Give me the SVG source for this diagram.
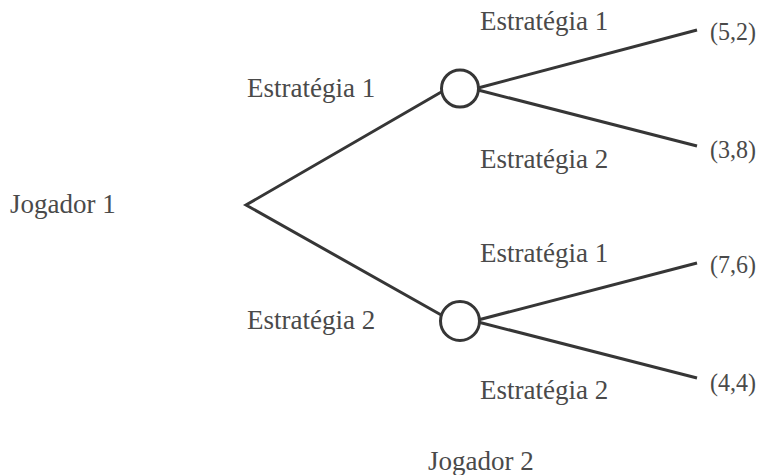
<svg xmlns="http://www.w3.org/2000/svg" width="760" height="475" viewBox="0 0 760 475">
  <style>
    .lbl { font-family: "Liberation Serif", "Times New Roman", serif; font-size: 27px; fill: #4a4a4a; }
    .pay { font-family: "Liberation Serif", "Times New Roman", serif; font-size: 26px; fill: #4a4a4a; }
    .edge { stroke: #363636; stroke-width: 3; fill: none; stroke-linecap: butt; }
    .node { stroke: #363636; stroke-width: 3; fill: #fff; }
  </style>
  <rect width="760" height="475" fill="#fff"/>

  <g id="connectors">
    <polyline class="edge" points="443,91 246,205 443,316" stroke-linejoin="miter"/>
    <line class="edge" x1="478" y1="88" x2="697" y2="30"/>
    <line class="edge" x1="478" y1="90" x2="697" y2="146"/>
    <line class="edge" x1="478" y1="320" x2="697" y2="263"/>
    <line class="edge" x1="478" y1="322" x2="697" y2="378"/>
  </g>

  <g id="player1">
    <text class="lbl" x="10" y="213">Jogador 1</text>
  </g>

  <g id="node-top">
    <circle class="node" cx="460" cy="88.5" r="18.5"/>
  </g>
  <g id="node-bottom">
    <circle class="node" cx="460" cy="321" r="19.5"/>
  </g>

  <g id="labels">
    <text class="lbl" x="247" y="97">Estratégia 1</text>
    <text class="lbl" x="247" y="329">Estratégia 2</text>
    <text class="lbl" x="480" y="30">Estratégia 1</text>
    <text class="lbl" x="480" y="168">Estratégia 2</text>
    <text class="lbl" x="480" y="262">Estratégia 1</text>
    <text class="lbl" x="480" y="399">Estratégia 2</text>
  </g>

  <g id="payoffs">
    <text class="pay" x="710" y="40" textLength="46" lengthAdjust="spacingAndGlyphs">(5,2)</text>
    <text class="pay" x="710" y="158" textLength="46" lengthAdjust="spacingAndGlyphs">(3,8)</text>
    <text class="pay" x="710" y="273" textLength="46" lengthAdjust="spacingAndGlyphs">(7,6)</text>
    <text class="pay" x="710" y="391" textLength="46" lengthAdjust="spacingAndGlyphs">(4,4)</text>
  </g>

  <g id="player2">
    <text class="lbl" x="428" y="470">Jogador 2</text>
  </g>
</svg>
